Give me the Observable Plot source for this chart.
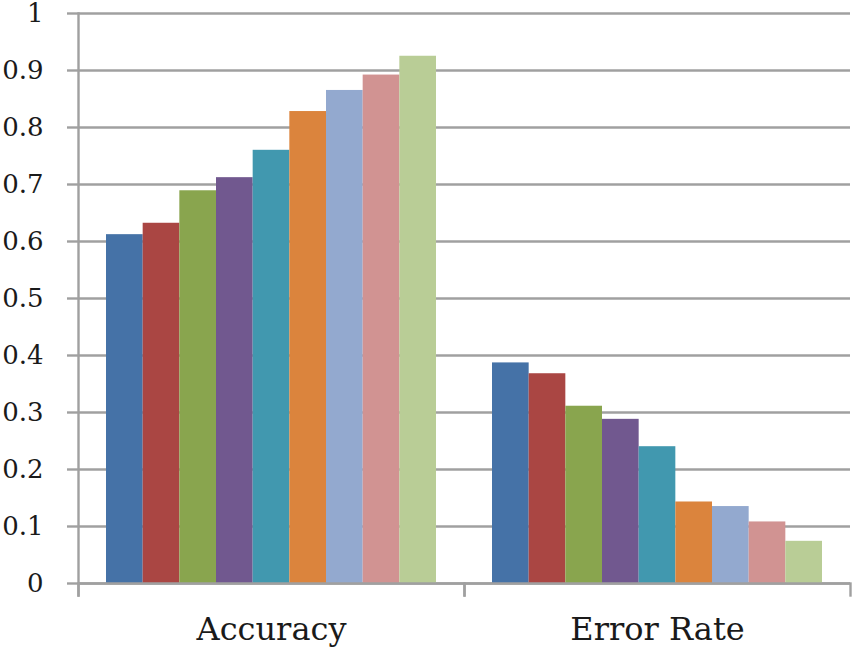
<!DOCTYPE html>
<html>
<head>
<meta charset="utf-8">
<script src="https://cdn.jsdelivr.net/npm/d3@7"></script>
<script src="https://cdn.jsdelivr.net/npm/@observablehq/plot@0.6"></script>
<style>
  html, body { margin: 0; padding: 0; background: #fff; }
  #chart svg { display: block; }
</style>
</head>
<body>
<div id="chart"></div>
<script>
// ---- data ----
const groups = ["Accuracy", "Error Rate"];
const series = ["M1", "M2", "M3", "M4", "M5", "M6", "M7", "M8", "M9"];
const accuracy = [0.612, 0.632, 0.689, 0.712, 0.760, 0.828, 0.865, 0.892, 0.925];
const errorRate = [0.387, 0.368, 0.311, 0.288, 0.240, 0.143, 0.135, 0.108, 0.074];
const colors = ["#4572A7", "#AA4643", "#89A54E", "#71588F", "#4198AF", "#DB843D", "#93A9CF", "#D19392", "#B9CD96"];
const yTicks = [0, 0.1, 0.2, 0.3, 0.4, 0.5, 0.6, 0.7, 0.8, 0.9, 1];
const yTickLabels = ["0", "0.1", "0.2", "0.3", "0.4", "0.5", "0.6", "0.7", "0.8", "0.9", "1"];

const table = [
  ...series.map((s, i) => ({group: groups[0], series: s, value: accuracy[i]})),
  ...series.map((s, i) => ({group: groups[1], series: s, value: errorRate[i]}))
];

// ---- layout ----
const W = 852, H = 649;
const mTop = 13, mLeft = 78, mRight = 2, mBottom = 66;
const plotH = H - mTop - mBottom;
const gray = "#a0a0a0";
const font = "'DejaVu Serif', 'Liberation Serif', serif";

const chart = Plot.plot({
  width: W,
  height: H,
  marginTop: mTop,
  marginLeft: mLeft,
  marginRight: mRight,
  marginBottom: mBottom,
  style: {fontFamily: font, background: "#fff"},
  fx: {domain: groups, padding: 0, round: false, label: null},
  x: {domain: series, padding: 0, round: false, insetLeft: 28, insetRight: 28, axis: null},
  y: {domain: [0, 1], label: null},
  color: {domain: series, range: colors},
  marks: [
    Plot.gridY(yTicks, {stroke: gray, strokeOpacity: 1, strokeWidth: 2.4}),
    Plot.barY(table, {fx: "group", x: "series", y: "value", fill: "series"}),
    Plot.frame({anchor: "left", facetAnchor: "left", insetBottom: -12, stroke: gray, strokeWidth: 2.4}),
    Plot.frame({anchor: "right", insetTop: plotH, insetBottom: -12, stroke: gray, strokeWidth: 2.4}),
    Plot.frame({anchor: "left", insetTop: plotH, insetBottom: -12, stroke: gray, strokeWidth: 2.4}),
    Plot.ruleY([0], {stroke: gray, strokeWidth: 2.4}),
    Plot.axisY({
      ticks: yTicks,
      tickFormat: (d) => yTickLabels[yTicks.indexOf(d)],
      tickSize: 11,
      tickPadding: 24,
      stroke: gray,
      strokeWidth: 2.4,
      fill: "#1a1a1a",
      fontSize: 26,
      label: null
    }),
    Plot.axisFx({
      anchor: "bottom",
      tickSize: 0,
      tickPadding: 34,
      fontSize: 32,
      fill: "#1a1a1a",
      label: null
    })
  ]
});

document.getElementById("chart").appendChild(chart);
</script>
</body>
</html>
